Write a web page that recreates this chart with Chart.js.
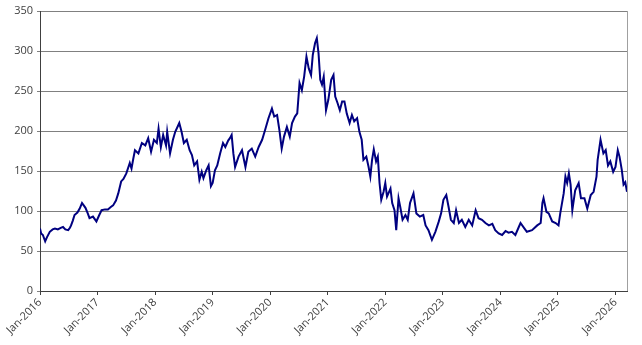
<!DOCTYPE html>
<html>
<head>
<meta charset="utf-8">
<script src="https://cdn.jsdelivr.net/npm/chart.js@4/dist/chart.umd.min.js"></script>
<style>
html,body{margin:0;padding:0;background:#fff;}
#wrap{width:642px;height:345px;position:relative;}
</style>
</head>
<body>
<div id="wrap"><canvas id="c" width="642" height="345"></canvas></div>
<script>
// time in fractional years
const times = [
2016.00,2016.02,2016.05,2016.09,2016.12,2016.17,2016.22,2016.26,2016.31,2016.36,2016.40,2016.44,2016.49,2016.52,2016.54,2016.57,2016.60,2016.65,2016.69,2016.73,2016.76,2016.79,2016.83,2016.86,2016.92,2016.98,
2017.03,2017.07,2017.13,2017.18,2017.23,2017.27,2017.32,2017.36,2017.41,2017.45,2017.50,2017.56,2017.59,2017.62,2017.65,2017.71,2017.77,2017.83,2017.88,2017.93,2017.98,
2018.03,2018.06,2018.10,2018.14,2018.19,2018.21,2018.26,2018.31,2018.35,2018.42,2018.46,2018.50,2018.55,2018.60,2018.64,2018.68,2018.73,2018.77,2018.81,2018.84,2018.89,2018.93,2018.97,
2019.00,2019.04,2019.08,2019.13,2019.18,2019.22,2019.27,2019.30,2019.33,2019.36,2019.39,2019.45,2019.51,2019.57,2019.62,2019.68,2019.74,2019.80,2019.86,2019.91,2019.97,
2020.03,2020.07,2020.12,2020.16,2020.20,2020.24,2020.29,2020.34,2020.38,2020.43,2020.47,2020.51,2020.55,2020.59,2020.63,2020.67,2020.71,2020.74,2020.78,2020.81,2020.84,2020.87,2020.90,2020.93,2020.97,
2021.01,2021.06,2021.10,2021.13,2021.17,2021.21,2021.25,2021.29,2021.33,2021.38,2021.42,2021.46,2021.51,2021.55,2021.59,2021.62,2021.67,2021.71,2021.74,2021.77,2021.80,2021.84,2021.87,2021.90,2021.93,2021.97,
2022.00,2022.03,2022.09,2022.12,2022.16,2022.19,2022.23,2022.26,2022.30,2022.35,2022.39,2022.43,2022.49,2022.54,2022.60,2022.66,2022.70,2022.75,2022.81,2022.87,2022.93,2022.97,
2023.01,2023.06,2023.10,2023.14,2023.19,2023.23,2023.28,2023.33,2023.39,2023.45,2023.51,2023.57,2023.62,2023.68,2023.74,2023.80,2023.86,2023.91,2023.97,
2024.03,2024.09,2024.14,2024.20,2024.26,2024.32,2024.35,2024.41,2024.46,2024.55,2024.64,2024.70,2024.73,2024.75,2024.80,2024.84,2024.90,2024.96,
2025.01,2025.04,2025.10,2025.13,2025.16,2025.19,2025.22,2025.25,2025.30,2025.36,2025.40,2025.46,2025.51,2025.57,2025.62,2025.67,2025.69,2025.74,2025.79,2025.83,2025.87,2025.91,2025.96,
2026.00,2026.04,2026.07,2026.11,2026.14,2026.17,2026.20
];
const values = [
78,72,70,62,67,74,77,78,77,79,80,77,76,79,82,88,95,98,103,110,107,104,97,91,93,87,
95,101,102,102,105,107,113,122,137,140,147,160,153,165,176,172,185,182,191,174,189,
185,203,180,195,182,199,172,189,199,210,199,185,189,176,170,157,162,139,149,141,151,157,131,
135,151,157,172,185,180,188,191,195,172,155,168,176,155,174,178,168,180,189,201,216,
228,218,220,201,178,193,205,193,210,218,222,260,251,268,293,278,270,295,310,316,297,264,258,268,226,
239,264,270,243,235,226,237,237,222,210,220,212,216,199,189,164,168,155,143,164,177,162,168,135,114,124,
135,118,128,110,101,76,116,105,89,95,89,110,122,97,93,95,82,76,64,74,87,97,
114,120,105,89,85,101,85,89,80,89,82,101,91,89,85,82,84,76,72,
70,75,73,74,70,80,85,79,74,76,82,85,110,116,99,97,87,85,
82,97,122,143,135,147,133,101,126,135,116,116,103,120,124,143,164,189,172,176,157,162,149,
155,176,168,151,133,136,124
];
const yearTicks = [2016,2017,2018,2019,2020,2021,2022,2023,2024,2025,2026];
const yearLabels = ['Jan-2016','Jan-2017','Jan-2018','Jan-2019','Jan-2020','Jan-2021','Jan-2022','Jan-2023','Jan-2024','Jan-2025','Jan-2026'];

const points = times.map((t,i)=>({x:t,y:values[i]}));

const rightBorder = {
  id:'rightBorder',
  afterDraw(chart){
    const a = chart.chartArea, ctx = chart.ctx;
    ctx.save();
    ctx.strokeStyle = '#a0a0a0';
    ctx.lineWidth = 1;
    ctx.beginPath();
    ctx.moveTo(Math.round(a.right)+0.5, a.top);
    ctx.lineTo(Math.round(a.right)+0.5, a.bottom);
    ctx.stroke();
    ctx.restore();
  }
};

const FONT = {family:'"Open Sans", "DejaVu Sans", sans-serif', size:11};

new Chart(document.getElementById('c'), {
  type:'line',
  data:{datasets:[{
    data:points,
    borderColor:'#000080',
    borderWidth:2,
    pointRadius:0,
    tension:0,
    fill:false
  }]},
  options:{
    responsive:false,
    animation:false,
    events:[],
    layout:{padding:{top:11,right:15,left:0,bottom:0}},
    plugins:{legend:{display:false},tooltip:{enabled:false}},
    scales:{
      x:{
        type:'linear',
        min:2016,
        max:times[times.length-1],
        afterBuildTicks(scale){ scale.ticks = yearTicks.map(v=>({value:v})); },
        afterFit(scale){ scale.height = 54; },
        ticks:{
          autoSkip:false,
          minRotation:45,
          maxRotation:45,
          color:'#404040',
          font:FONT,
          padding:1,
          callback(v){ const i = yearTicks.indexOf(v); return i>=0 ? yearLabels[i] : ''; }
        },
        grid:{drawOnChartArea:false, drawTicks:true, tickLength:4, color:'#404040'},
        border:{color:'#404040', width:1}
      },
      y:{
        min:0,
        max:350,
        afterFit(scale){ scale.width = 40; },
        ticks:{stepSize:50, color:'#404040', font:FONT, padding:4},
        grid:{color:'#808080', lineWidth:1, tickLength:3},
        border:{color:'#404040', width:1}
      }
    }
  },
  plugins:[rightBorder]
});
</script>
</body>
</html>
